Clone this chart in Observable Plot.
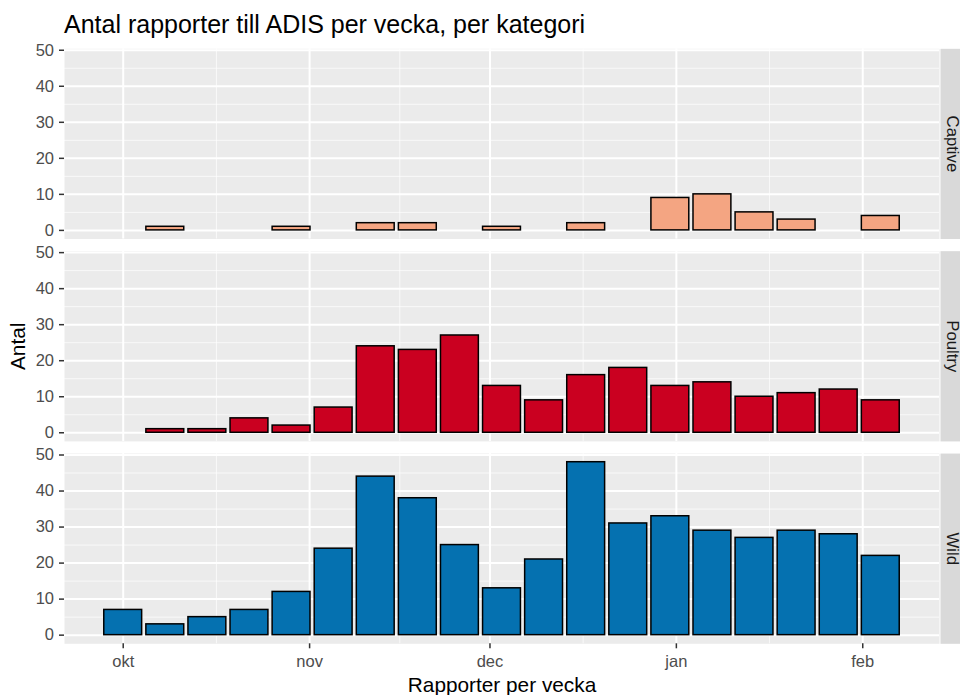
<!DOCTYPE html>
<html><head><meta charset="utf-8">
<script src="https://cdn.jsdelivr.net/npm/d3@7"></script>
<script src="https://cdn.jsdelivr.net/npm/@observablehq/plot@0.6"></script>
<style>
html,body{margin:0;padding:0;background:#fff;overflow:hidden;}
#wrap{position:relative;width:960px;height:695px;font-family:"Liberation Sans",Arial,sans-serif;overflow:hidden;}
#title{position:absolute;left:64px;top:11.5px;font-size:25px;line-height:25px;color:#000;white-space:nowrap;}
#chart{position:absolute;left:0;top:40px;}
</style></head><body>
<div id="wrap"><div id="title"></div><div id="chart"></div></div>
<script>
const titleText = "Antal rapporter till ADIS per vecka, per kategori";
const xLabel = "Rapporter per vecka";
const yLabel = "Antal";
const categories = ["Captive", "Poultry", "Wild"];
const categoryColors = ["#F4A582", "#CA0020", "#0571B0"];
const weeks = ["2016-10-01","2016-10-08","2016-10-15","2016-10-22","2016-10-29","2016-11-05","2016-11-12","2016-11-19","2016-11-26","2016-12-03","2016-12-10","2016-12-17","2016-12-24","2016-12-31","2017-01-07","2017-01-14","2017-01-21","2017-01-28","2017-02-04"];
const captive = [0,1,0,0,1,0,2,2,0,1,0,2,0,9,10,5,3,0,4];
const poultry = [0,1,1,4,2,7,24,23,27,13,9,16,18,13,14,10,11,12,9];
const wild = [7,3,5,7,12,24,44,38,25,13,21,48,31,33,29,27,29,28,22];
const monthTicks = ["2016-10-01","2016-11-01","2016-12-01","2017-01-01","2017-02-01"];
const monthLabels = ["okt","nov","dec","jan","feb"];
const yTicks = [0,10,20,30,40,50];

document.getElementById("title").textContent = titleText;

const series = {Captive: captive, Poultry: poultry, Wild: wild};
const rows = [];
for (const c of categories) {
  series[c].forEach((v, i) => { if (v > 0) rows.push({cat: c, date: new Date(weeks[i]), value: v}); });
}
const DAY = 864e5;
const half = 0.9 * 7 / 2 * DAY;
const first = +new Date(weeks[0]) - half, last = +new Date(weeks[weeks.length - 1]) + half;
const padX = 0.05 * (last - first);
const allVals = [...captive, ...poultry, ...wild];
const yMax = d3.max(allVals), yMin = 0;
const padY = 0.05 * (yMax - yMin);
const tickDates = monthTicks.map(d => new Date(d));
const xMinor = tickDates.slice(1).map((d, i) => new Date((+d + +tickDates[i]) / 2));
const yMinor = yTicks.slice(1).map((d, i) => (d + yTicks[i]) / 2);

const W = 960, H = 655, mL = 64, mR = 21, mT = 8.3, mB = 51.7;
const panelW = W - mL - mR;
const font = "'Liberation Sans', Arial, sans-serif";

const chart = Plot.plot({
  width: W, height: H,
  marginTop: mT, marginBottom: mB, marginLeft: mL, marginRight: mR,
  style: {fontFamily: font, fontSize: "16.5px", background: "transparent", overflow: "hidden"},
  x: {type: "utc", domain: [new Date(first - padX), new Date(last + padX)], axis: null},
  y: {domain: [yMin - padY, yMax + padY], axis: null},
  fy: {domain: categories, paddingInner: 0.06, paddingOuter: 0, round: false, axis: null},
  color: {domain: categories, range: categoryColors},
  marks: [
    Plot.frame({fill: "#EBEBEB", stroke: null}),
    Plot.frame({fill: "#D9D9D9", stroke: null, insetLeft: panelW + 1, insetRight: -mR}),
    Plot.gridY({ticks: yMinor, stroke: "white", strokeOpacity: 0.7, strokeWidth: 1}),
    Plot.gridX({ticks: xMinor, stroke: "white", strokeOpacity: 0.7, strokeWidth: 1}),
    Plot.gridY({ticks: yTicks, stroke: "white", strokeOpacity: 1, strokeWidth: 2}),
    Plot.gridX({ticks: tickDates, stroke: "white", strokeOpacity: 1, strokeWidth: 2}),
    Plot.rectY(rows, {
      x1: d => new Date(+d.date - half), x2: d => new Date(+d.date + half),
      y: "value", fy: "cat", fill: "cat", stroke: "black", strokeWidth: 1.5
    }),
    Plot.axisY({ticks: yTicks, tickSize: 5, tickPadding: 5.5, stroke: "#333333", strokeWidth: 1.5, fill: "#4D4D4D", fontSize: 16.5, label: null}),
    Plot.axisX({ticks: tickDates, tickFormat: (d, i) => monthLabels[i], tickSize: 5, tickPadding: 6.7, stroke: "#333333", strokeWidth: 1.5, fill: "#4D4D4D", fontSize: 16.5, label: null}),
    Plot.axisX({ticks: [], tickSize: 0, label: xLabel, labelAnchor: "center", labelArrow: "none", labelOffset: 48.4, fill: "black", fontSize: 20.8}),
    Plot.axisFy({anchor: "left", ticks: [], tickSize: 0, label: yLabel, labelAnchor: "center", labelArrow: "none", labelOffset: 54, fill: "black", fontSize: 20.8}),
    Plot.axisFy({anchor: "right", tickSize: 0, tickRotate: 90, tickPadding: 7, textAnchor: "middle", lineAnchor: "bottom", fill: "#1A1A1A", fontSize: 16.7, label: null})
  ]
});
document.getElementById("chart").appendChild(chart);
</script>
</body></html>
